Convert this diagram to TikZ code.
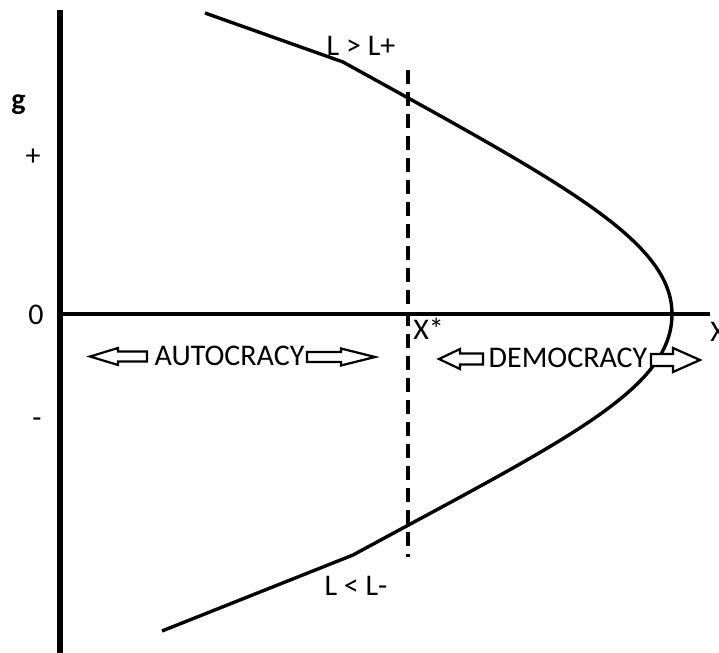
\documentclass[tikz,border=0pt]{standalone}
\usepackage{fontspec}
\setmainfont{Carlito}
\begin{document}
\begin{tikzpicture}[
  x=0.5pt, y=-0.5pt,
  font=\fontsize{15}{18}\selectfont,
  yaxis/.style={line width=3pt, draw=black},
  xaxis/.style={line width=1.8pt, draw=black},
  curve/.style={line width=1.7pt, line join=round},
  cut/.style={line width=1.8pt, dash pattern=on 7pt off 4pt},
  hollow/.style={draw=black, fill=white, line width=1.1pt, line join=miter},
  lbl/.style={inner sep=0pt}
]
\useasboundingbox (0,0) rectangle (719,653);

% axes
\coordinate (ytop) at (60,10);
\coordinate (ybot) at (60,653);
\coordinate (xleft) at (60,314);
\coordinate (xright) at (710,314);
\draw[yaxis] (ytop) -- (ybot);
\draw[xaxis] (xleft) -- (xright);

% threshold at X*
\coordinate (cuttop) at (408,70);
\coordinate (cutbot) at (408,557);
\draw[cut] (cuttop) -- (cutbot);

% regime boundary
\draw[curve] (205,13) -- (343,62)
  .. controls (560,182) and (672,240) .. (672,314)
  .. controls (672,390) and (565,440) .. (353,555) -- (162,631);

% axis labels
\node[lbl, font=\fontsize{15}{18}\selectfont\bfseries] (glab) at (18.5,105) {g};
\node[lbl] (plus) at (33,157) {+};
\node[lbl] (zero) at (36,315) {0};
\node[lbl] (minus) at (37,423) {-};
\node[lbl, anchor=west] (xstar) at (413,329) {X*};
\node[lbl, anchor=west] (xlab) at (710,332) {X};

% curve labels
\node[lbl] (lplus) at (361,46) {L > L+};
\node[lbl] (lminus) at (356,586) {L < L-};

% regimes
\draw[hollow] (90,356.5) -- (118,348) -- (118,351.5) -- (147,351.5)
  -- (147,361.5) -- (118,361.5) -- (118,365) -- cycle;
\node[lbl] (auto) at (229.5,356) {AUTOCRACY};
\draw[hollow] (375,357) -- (341,348.5) -- (341,352) -- (307,352)
  -- (307,362) -- (341,362) -- (341,365.5) -- cycle;

\draw[hollow] (439,359) -- (460,349) -- (460,353.5) -- (483,353.5)
  -- (483,364.5) -- (460,364.5) -- (460,369) -- cycle;
\node[lbl] (demo) at (568,358) {DEMOCRACY};
\draw[hollow] (700,360) -- (673,348) -- (673,354) -- (651,354)
  -- (651,366) -- (673,366) -- (673,372) -- cycle;

\end{tikzpicture}
\end{document}
